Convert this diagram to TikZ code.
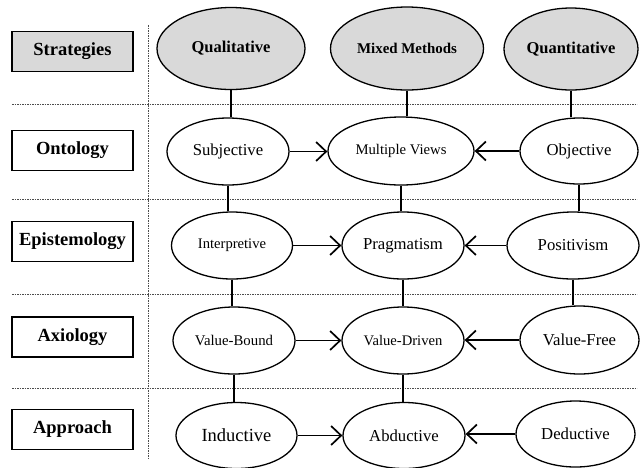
\documentclass[tikz,border=0pt]{standalone}
\usepackage{fontspec}
\setmainfont{Liberation Serif}
\usetikzlibrary{shapes.geometric,arrows.meta}
\begin{document}
\begin{tikzpicture}[x=1pt,y=-1pt,
  rowlabel/.style={draw,line width=1.3pt,minimum width=121pt,minimum height=40pt,
    inner sep=0pt,font=\fontsize{18.5}{20}\selectfont\bfseries},
  strat/.style={ellipse,draw,line width=1.3pt,fill=gray!30,inner sep=0pt,
    font=\fontsize{16.5}{18}\selectfont\bfseries},
  item/.style={ellipse,draw,line width=1.3pt,fill=white,inner sep=0pt,
    font=\fontsize{16.7}{18}\selectfont},
  sep/.style={line width=0.9pt,black!70,dash pattern=on 1.6pt off 0.9pt},
  link/.style={line width=1.6pt},
  flow/.style={line width=1.6pt,-{Straight Barb[length=10pt,width=19pt,line width=1.7pt]}}
]
\useasboundingbox (0,0) rectangle (640,467);

% grid separators
\draw[sep] (148,25) -- (148,458);
\foreach \yy in {104,199,294,388} \draw[sep] (12,\yy) -- (637,\yy);

% row labels
\node[rowlabel,fill=gray!30] (lstr) at (72.5,51.5) {Strategies};
\node[rowlabel] (lont) at (72.5,150.5) {Ontology};
\node[rowlabel] (lepi) at (72.5,241.5) {Epistemology};
\node[rowlabel] (laxi) at (72.5,337) {Axiology};
\node[rowlabel] (lapp) at (72.5,429.5) {Approach};

% strategies
\node[strat,minimum width=148pt,minimum height=82pt] (qual) at (231,48.5) {Qualitative};
\node[strat,minimum width=153pt,minimum height=83pt,font=\fontsize{14.9}{16}\selectfont\bfseries] (mix) at (407,48.5) {Mixed Methods};
\node[strat,minimum width=134pt,minimum height=82pt] (quan) at (571,49) {Quantitative};

% ontology
\node[item,minimum width=122pt,minimum height=67pt] (subj) at (228,151.5) {Subjective};
\node[item,minimum width=146pt,minimum height=68pt,font=\fontsize{14.7}{16}\selectfont] (mult) at (401,151) {Multiple Views};
\node[item,minimum width=118pt,minimum height=66pt] (obj) at (579,151) {Objective};

% epistemology
\node[item,minimum width=121pt,minimum height=67pt,font=\fontsize{14.6}{16}\selectfont] (interp) at (232,245.5) {Interpretive};
\node[item,minimum width=122pt,minimum height=67pt] (prag) at (403,245.5) {Pragmatism};
\node[item,minimum width=132pt,minimum height=67pt] (posit) at (573,245.5) {Positivism};

% axiology
\node[item,minimum width=122pt,minimum height=67pt,font=\fontsize{14.8}{16}\selectfont] (vbound) at (234,340.5) {Value-Bound};
\node[item,minimum width=122pt,minimum height=67pt,font=\fontsize{14.6}{16}\selectfont] (vdriven) at (403,340.5) {Value-Driven};
\node[item,minimum width=119pt,minimum height=68pt] (vfree) at (579.5,340) {Value-Free};

% approach
\node[item,minimum width=121pt,minimum height=66pt,font=\fontsize{18.5}{20}\selectfont] (induct) at (236.5,435.5) {Inductive};
\node[item,minimum width=122pt,minimum height=66pt] (abduct) at (404,435.5) {Abductive};
\node[item,minimum width=119pt,minimum height=66pt] (deduct) at (575.5,434) {Deductive};

% vertical links between rows
\draw[link] (qual.south) -- (qual.south |- subj.north);
\draw[link] (mix.south) -- (mix.south |- mult.north);
\draw[link] (quan.south) -- (quan.south |- obj.north);
\draw[link] (subj.south) -- (subj.south |- interp.north);
\draw[link] (mult.south) -- (mult.south |- prag.north);
\draw[link] (obj.south) -- (obj.south |- posit.north);
\draw[link] (interp.south) -- (interp.south |- vbound.north);
\draw[link] (prag.south) -- (prag.south |- vdriven.north);
\draw[link] (posit.south) -- (posit.south |- vfree.north);
\draw[link] (vbound.south) -- (vbound.south |- induct.north);
\draw[link] (vdriven.south) -- (vdriven.south |- abduct.north);

% horizontal arrows towards the middle column
\draw[flow] (subj.east) -- (subj.east -| mult.west);
\draw[flow] (obj.west) -- (obj.west -| mult.east);
\draw[flow] (interp.east) -- (interp.east -| prag.west);
\draw[flow] (posit.west) -- (posit.west -| prag.east);
\draw[flow] (vbound.east) -- (vbound.east -| vdriven.west);
\draw[flow] (vfree.west) -- (vfree.west -| vdriven.east);
\draw[flow] (induct.east) -- (induct.east -| abduct.west);
\draw[flow] (deduct.west) -- (deduct.west -| abduct.east);
\end{tikzpicture}
\end{document}
